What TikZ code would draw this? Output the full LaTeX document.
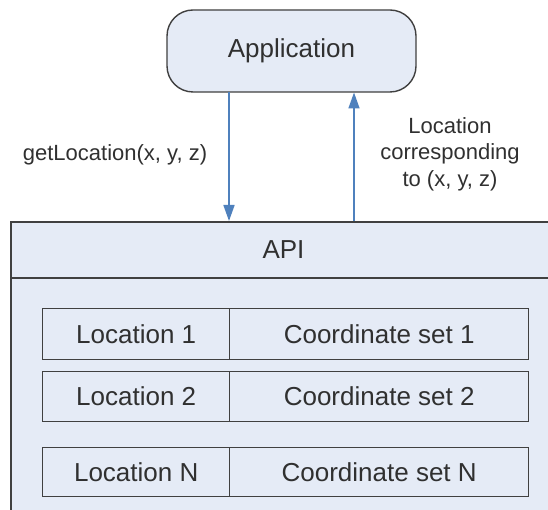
\documentclass[tikz,border=0pt]{standalone}
\usepackage{fontspec}
\setmainfont{Liberation Sans}
\usetikzlibrary{arrows.meta}
\definecolor{boxfill}{HTML}{E5EBF6}
\definecolor{boxline}{HTML}{404040}
\definecolor{flow}{HTML}{4F81BD}
\definecolor{txt}{HTML}{303030}
\tikzset{
  panel/.style={draw=boxline, line width=1.4pt, fill=boxfill},
  cell/.style={draw=boxline, line width=1.4pt, fill=boxfill, inner sep=0pt,
    text=txt, font=\fontsize{26}{31}\selectfont},
  call/.style={draw=flow, line width=1.6pt, -{Triangle[width=11pt,length=16pt]}},
  lbl/.style={text=txt, font=\fontsize{22}{26.5}\selectfont, align=center}
}
\begin{document}
\begin{tikzpicture}[x=1pt,y=-1pt]
  \clip (0,0) rectangle (548,510);
  \fill[white] (0,0) rectangle (548,510);

  % calling application
  \node[cell, rounded corners=26pt, minimum width=249pt, minimum height=82pt]
    (app) at (291.5,51) {Application};

  % API container with its header
  \draw[panel] (11,222) rectangle (556,525);
  \node[cell, minimum width=545pt, minimum height=56pt] (api) at (283.5,250) {API};

  % lookup table
  \foreach \r/\t/\b in {1/308/359, 2/371/421, N/447/496}{
    \node[cell, minimum width=187pt, minimum height={\b-\t}, anchor=north west]
      (loc\r) at (42,\t) {Location \r};
    \node[cell, minimum width=299pt, minimum height={\b-\t}, anchor=north west]
      (set\r) at (229,\t) {Coordinate set \r};
  }

  % request and reply
  \coordinate (reqTop) at (229,92);
  \coordinate (reqEnd) at (229,221);
  \coordinate (repStart) at (354,221);
  \coordinate (repEnd) at (354,92.5);
  \draw[call] (reqTop) -- (reqEnd);
  \draw[call] (repStart) -- (repEnd);

  \node[lbl] (reqlbl) at (115,155) {getLocation(x, y, z)};
  \node[lbl] (replbl) at (450,154) {Location\\corresponding\\to (x, y, z)};
\end{tikzpicture}
\end{document}
